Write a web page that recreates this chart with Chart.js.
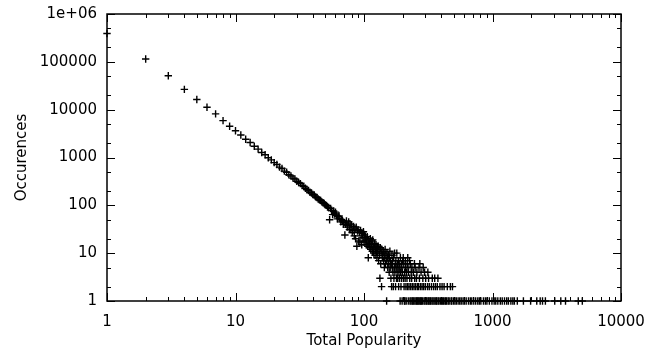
<!DOCTYPE html>
<html>
<head>
<meta charset="utf-8">
<script src="https://cdn.jsdelivr.net/npm/chart.js@4.4.1/dist/chart.umd.min.js"></script>
<style>
  html, body { margin: 0; padding: 0; background: #fff; }
  #wrap { width: 665px; height: 352px; }
</style>
</head>
<body>
<div id="wrap"><canvas id="c" width="665" height="352"></canvas></div>
<script>
// ---- data (popularity -> number of occurrences) ----
const headPopularity = [1,2,3,4,5,6,7,8,9,10,
  11,12,13,14,15,16,17,18,19,20,21,22,23,24,25,26,27,28,29,30,
  31,32,33,34,35,36,37,38,39,40,41,42,43,44,45,46,47,48,49,50,
  51,52,53,54,55,56,57,58,59,60,61,62,63,64,65,66,67,68,69,70,
  71,72,73,74,75,76,77,78,79,80,81,82,83,84,85,86,87,88,89,90,
  91,92,93,94,95,96,97,98,99,100];
const headOccurrences = [390000,115000,51000,26500,16300,11200,8150,5900,4500,3630,
  2950,2400,2060,1720,1500,1270,1140,990,890,780,715,630,590,520,490,435,410,370,355,318,
  300,285,258,250,228,212,204,188,181,168,165,150,146,136,130,126,118,113,110,102,
  100,92,90,50,86,78,64,76,66,72,62,52,58,60,52,45,50,48,40,44,
  24,40,47,35,38,45,31,41,31,39,27,30,36,23,32,20,35,14,29,31,
  18,27,17,30,23,15,26,21,28,17];

const midPopularity = [101,102,103,104,105,106,107,108,109,110,
  111,112,113,114,115,116,117,118,119,120,121,122,123,124,125,126,127,128,129,130,
  131,132,133,134,135,136,137,138,139,140,141,142,143,144,145,146,147,148,149,150,
  151,152,153,154,155,156,157,158,159,160,161,162,163,164,165,166,167,168,169,170,
  171,172,173,174,175,176,177,178,179,180,181,182,183,184,185,186,187,188,189,190,
  191,192,193,194,195,196,197,198,199,200];
const midOccurrences = [24,18,21,15,19,22,14,8,17,16,
  13,20,12,15,18,11,19,13,10,14,16,9,12,15,11,8,13,10,14,7,
  12,9,3,13,6,10,2,12,8,9,11,7,10,5,8,12,6,9,7,1,
  10,8,5,7,9,6,4,8,11,5,7,3,6,2,9,5,7,4,2,8,
  3,5,10,4,6,2,7,5,3,10,4,6,3,5,7,2,4,6,3,5,
  1,8,4,2,6,3,5,1,4,7];

const tailPopularity = [202,203,204,205,207,209,210,211,212,214,216,217,218,219,220,222,224,226,227,229,
  231,233,235,236,238,242,245,247,248,250,252,256,258,260,266,268,270,272,275,278,
  283,287,289,291,296,300,302,312,314,318,322,335,340,348,355,360,372,376,390,405,
  420,445,470,488];
const tailOccurrences = [8,3,6,2,4,3,7,5,2,4,3,6,2,8,5,4,2,7,3,6,
  2,4,3,5,2,4,2,6,3,5,2,3,4,2,2,5,3,6,2,4,
  2,3,5,2,4,2,3,2,4,3,2,2,3,2,3,2,2,3,2,2,
  2,2,2,2];

// popularity values seen exactly once (count = 1)
const singlePopularity = [206,208,213,221,228,232,237,240,244,249,254,257,262,264,269,274,277,281,285,293,
  298,305,309,316,320,326,330,338,344,351,358,365,369,378,384,395,401,410,415,426,
  432,440,452,460,476,482,497,510,523,540,556,571,590,605,624,650,672,690,715,740,
  768,790,812,850,880,905,945,990,1030,1060,1100,1150,1190,1240,1290,1330,1390,1440,
  1480,1560,1740,1980,2210,2350,2450,2580,3050,3400,3700,4650,5000];

const xTickValues = [1, 10, 100, 1000, 10000];
const xTickLabels = ['1', '10', '100', '1000', '10000'];
const yTickValues = [1, 10, 100, 1000, 10000, 100000, 1000000];
const yTickLabels = ['1', '10', '100', '1000', '10000', '100000', '1e+06'];
const xMinorSteps = [2, 3, 4, 5, 6, 7, 8, 9];
const yMinorSteps = [2, 5];

const xTitle = 'Total Popularity';
const yTitle = 'Occurences';

// ---- build points ----
const points = [];
headPopularity.forEach((p, i) => points.push({x: p, y: headOccurrences[i]}));
midPopularity.forEach((p, i) => points.push({x: p, y: midOccurrences[i]}));
tailPopularity.forEach((p, i) => points.push({x: p, y: tailOccurrences[i]}));
singlePopularity.forEach(p => points.push({x: p, y: 1}));

const frameTicks = {
  id: 'frameTicks',
  afterDraw(chart) {
    const {ctx, chartArea: a, scales: {x, y}} = chart;
    ctx.save();
    ctx.strokeStyle = '#000';
    ctx.lineWidth = 1;
    ctx.beginPath();
    xTickValues.forEach((major, k) => {
      const vals = [[major, 8]];
      if (k < xTickValues.length - 1) xMinorSteps.forEach(m => vals.push([major * m, 4]));
      vals.forEach(([v, len]) => {
        const px = Math.round(x.getPixelForValue(v)) + 0.5;
        ctx.moveTo(px, a.bottom); ctx.lineTo(px, a.bottom - len);
        ctx.moveTo(px, a.top); ctx.lineTo(px, a.top + len);
      });
    });
    yTickValues.forEach((major, k) => {
      const vals = [[major, 8]];
      if (k < yTickValues.length - 1) yMinorSteps.forEach(m => vals.push([major * m, 4]));
      vals.forEach(([v, len]) => {
        const py = Math.round(y.getPixelForValue(v)) + 0.5;
        ctx.moveTo(a.left, py); ctx.lineTo(a.left + len, py);
        ctx.moveTo(a.right, py); ctx.lineTo(a.right - len, py);
      });
    });
    ctx.stroke();
    ctx.lineWidth = 1.5;
    ctx.strokeRect(a.left, a.top, a.right - a.left, a.bottom - a.top);
    ctx.restore();
  }
};

Chart.defaults.font.family = "'DejaVu Sans', sans-serif";
Chart.defaults.font.size = 15;
Chart.defaults.color = '#000';

new Chart(document.getElementById('c'), {
  type: 'scatter',
  data: {
    datasets: [{
      label: 'Occurences',
      data: points,
      pointStyle: 'cross',
      pointRadius: 3.7,
      pointHoverRadius: 3.7,
      borderColor: '#000',
      backgroundColor: '#000',
      pointBorderWidth: 1.4,
      clip: false
    }]
  },
  options: {
    responsive: false,
    animation: false,
    events: [],
    layout: { padding: { left: 0, right: 44, top: 14, bottom: 0 } },
    plugins: { legend: { display: false }, tooltip: { enabled: false } },
    scales: {
      x: {
        type: 'logarithmic',
        min: 1, max: 10000,
        grid: { display: false, drawTicks: false },
        border: { display: false },
        afterBuildTicks: s => { s.ticks = xTickValues.map(v => ({value: v})); },
        afterFit: s => { s.height = 51; s.paddingLeft = 0; s.paddingRight = 0; },
        ticks: {
          autoSkip: false, maxRotation: 0, padding: 12,
          callback: v => { const i = xTickValues.indexOf(v); return i >= 0 ? xTickLabels[i] : ''; }
        },
        title: { display: true, text: xTitle, padding: { top: 0, bottom: 2 } }
      },
      y: {
        type: 'logarithmic',
        min: 1, max: 1000000,
        grid: { display: false, drawTicks: false },
        border: { display: false },
        afterBuildTicks: s => { s.ticks = yTickValues.map(v => ({value: v})); },
        afterFit: s => { s.width = 107; s.paddingTop = 0; s.paddingBottom = 0; },
        ticks: {
          autoSkip: false, padding: 10,
          callback: v => { const i = yTickValues.indexOf(v); return i >= 0 ? yTickLabels[i] : ''; }
        },
        title: { display: true, text: yTitle, padding: { top: 13, bottom: 0 } }
      }
    }
  },
  plugins: [frameTicks]
});
</script>
</body>
</html>
